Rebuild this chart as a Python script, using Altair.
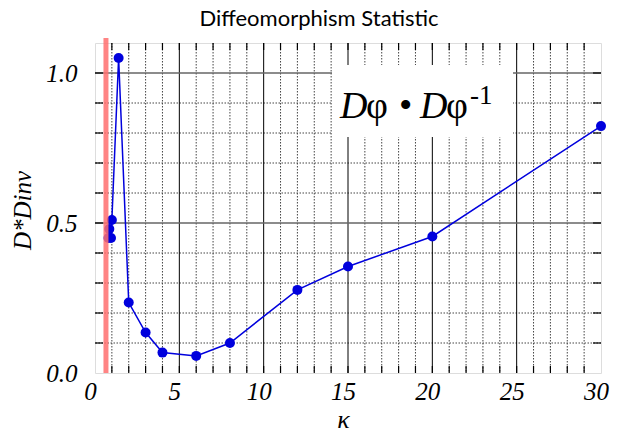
import altair as alt
import pandas as pd

# ---- data ----
kappa = [0.8, 0.85, 0.95, 1.0, 1.4, 2.0, 3.0, 4.0, 6.0, 8.0, 12.0, 15.0, 20.0, 30.0]
dinv = [0.45, 0.48, 0.45, 0.51, 1.05, 0.235, 0.135, 0.068, 0.057, 0.10, 0.277, 0.355, 0.455, 0.823]
marker_kappa = [0.65]

x_ticks = [0, 5, 10, 15, 20, 25, 30]
y_ticks = [0.0, 0.5, 1.0]
x_minor = [v for v in range(1, 30) if v % 5 != 0]
x_major = [5, 10, 15, 20, 25]
y_minor = [0.1, 0.2, 0.3, 0.4, 0.6, 0.7, 0.8, 0.9]
y_major = [0.5, 1.0]

X_MAX, Y_MAX = 30, 1.1
W, H = 506, 330

df = pd.DataFrame({"k": kappa, "d": dinv, "i": list(range(len(kappa)))})
xs = alt.Scale(domain=[0, X_MAX], nice=False, zero=False)
ys = alt.Scale(domain=[0, Y_MAX], nice=False, zero=False)

serif = "Times New Roman, Liberation Serif, serif"

base_x = alt.X("k:Q", scale=xs, axis=alt.Axis(
    values=x_ticks, format="d", grid=False, ticks=False, domain=False,
    labelFont=serif, labelFontStyle="italic", labelFontSize=25, labelColor="black",
    labelPadding=6, labelOffset=-5, labelFlush=False,
    title="κ", titleFont=serif, titleFontStyle="italic", titleFontWeight="normal",
    titleFontSize=26, titleColor="black", titleX=248, titleY=46, titleBaseline="middle"))
base_y = alt.Y("d:Q", scale=ys, axis=alt.Axis(
    values=y_ticks, format=".1f", grid=False, ticks=False, domain=False,
    labelFont=serif, labelFontStyle="italic", labelFontSize=25, labelColor="black",
    labelPadding=18, labelFlush=False,
    title="D*Dinv", titleFont=serif, titleFontStyle="italic", titleFontWeight="normal",
    titleFontSize=25, titleColor="black", titleX=-73, titleY=H / 2 + 2,
    titleBaseline="middle", titleAngle=270))

# gridlines
gx_minor = alt.Chart(pd.DataFrame({"k": x_minor})).mark_rule(
    color="#444", strokeWidth=1, strokeDash=[1.5, 1.5]).encode(x=alt.X("k:Q", scale=xs))
gy_minor = alt.Chart(pd.DataFrame({"d": y_minor})).mark_rule(
    color="#444", strokeWidth=1, strokeDash=[1.5, 1.5]).encode(y=alt.Y("d:Q", scale=ys))
gx_major = alt.Chart(pd.DataFrame({"k": x_major})).mark_rule(
    color="black", strokeWidth=1).encode(x=alt.X("k:Q", scale=xs))
gy_major = alt.Chart(pd.DataFrame({"d": y_major})).mark_rule(
    color="#666", strokeWidth=1.6).encode(y=alt.Y("d:Q", scale=ys))

# inward border ticks
tx = pd.DataFrame({"k": x_minor + x_major})
tick_b = alt.Chart(tx).mark_rule(color="black", strokeWidth=1.2).encode(
    x=alt.X("k:Q", scale=xs), y=alt.value(H), y2=alt.value(H - 7))
tick_t = alt.Chart(tx).mark_rule(color="black", strokeWidth=1.2).encode(
    x=alt.X("k:Q", scale=xs), y=alt.value(0), y2=alt.value(7))
ty = pd.DataFrame({"d": y_minor + y_major})
tick_l = alt.Chart(ty).mark_rule(color="black", strokeWidth=1.2).encode(
    y=alt.Y("d:Q", scale=ys), x=alt.value(0), x2=alt.value(8))
tick_r = alt.Chart(ty).mark_rule(color="black", strokeWidth=1.2).encode(
    y=alt.Y("d:Q", scale=ys), x=alt.value(W), x2=alt.value(W - 8))

# white label box and formula
box = alt.Chart(pd.DataFrame({"a": [0]})).mark_rect(color="white").encode(
    x=alt.value(237), x2=alt.value(418), y=alt.value(22), y2=alt.value(94))

def txt(s, x, y, size, italic):
    return alt.Chart(pd.DataFrame({"t": [s]})).mark_text(
        font=serif, fontSize=size, fontStyle="italic" if italic else "normal",
        align="left", baseline="alphabetic", color="black").encode(
        text="t:N", x=alt.value(x), y=alt.value(y))

formula = (txt("D", 245, 75, 38, True) + txt("φ", 271, 75, 38, False) +
           txt("•", 304, 75, 38, False) + txt("D", 325, 75, 38, True) +
           txt("φ", 351, 75, 38, False) + txt("-1", 375, 61, 27, False))

line = alt.Chart(df).mark_line(color="#0000dd", strokeWidth=1.5).encode(
    x=base_x, y=base_y, order="i:O")
pts = alt.Chart(df).mark_circle(color="#0000dd", size=100, opacity=1).encode(
    x=alt.X("k:Q", scale=xs), y=alt.Y("d:Q", scale=ys))

red = alt.Chart(pd.DataFrame({"k": marker_kappa})).mark_rule(
    color="#ff6f6f", strokeWidth=5, opacity=0.85).encode(
    x=alt.X("k:Q", scale=xs), y=alt.value(-5), y2=alt.value(H))

title = alt.Chart(pd.DataFrame({"t": ["Diffeomorphism Statistic"]})).mark_text(
    font="Lato", fontSize=22, color="black", align="center", baseline="middle").encode(
    text="t:N", x=alt.value(224), y=alt.value(-24))

chart = alt.layer(
    gx_minor, gy_minor, gx_major, gy_major, tick_b, tick_t, tick_l, tick_r,
    box, formula, line, pts, red, title
).properties(
    width=W, height=H,
    autosize=alt.AutoSizeParams(type="none"),
    padding={"left": 95, "top": 43, "right": 16, "bottom": 61},
).configure_view(stroke="black", strokeWidth=2).configure(background="white")

chart.save("out.html", embed_options={"renderer": "svg", "actions": False})
